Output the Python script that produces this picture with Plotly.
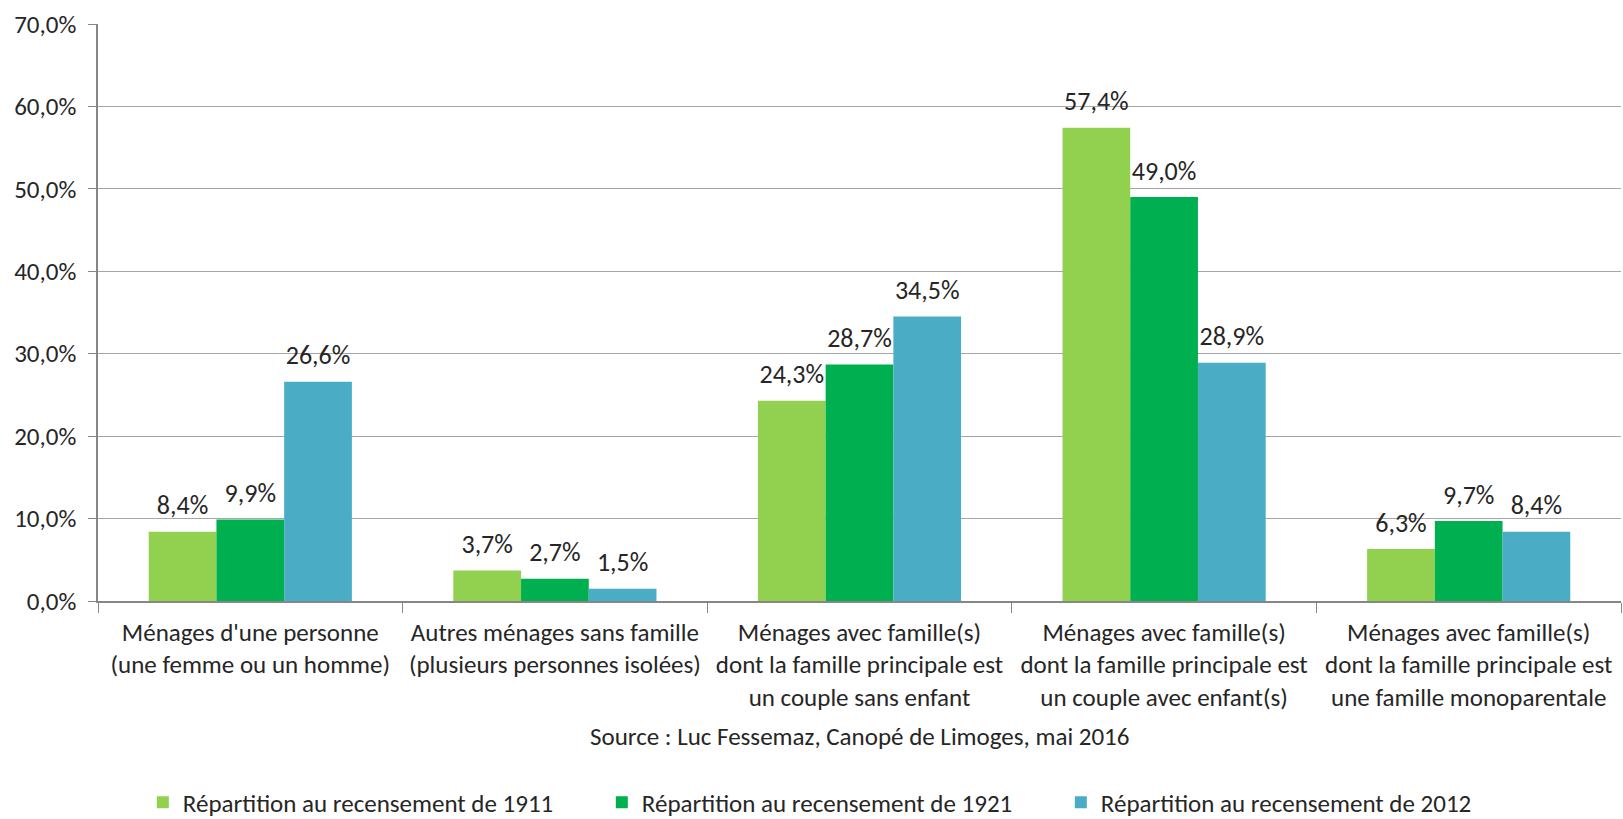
import plotly.graph_objects as go

categories = [
    "Ménages d'une personne<br>(une femme ou un homme)",
    "Autres ménages sans famille<br>(plusieurs personnes isolées)",
    "Ménages avec famille(s)<br>dont la famille principale est<br>un couple sans enfant",
    "Ménages avec famille(s)<br>dont la famille principale est<br>un couple avec enfant(s)",
    "Ménages avec famille(s)<br>dont la famille principale est<br>une famille monoparentale",
]
series_names = [
    "Répartition au recensement de 1911",
    "Répartition au recensement de 1921",
    "Répartition au recensement de 2012",
]
values_1911 = [8.4, 3.7, 24.3, 57.4, 6.3]
values_1921 = [9.9, 2.7, 28.7, 49.0, 9.7]
values_2012 = [26.6, 1.5, 34.5, 28.9, 8.4]
colors = ["#92D050", "#00B050", "#4BACC6"]
y_ticks = [0, 10, 20, 30, 40, 50, 60, 70]
source_text = "Source : Luc Fessemaz, Canopé de Limoges, mai 2016"

FONT = "Calibri, Carlito, Lato, sans-serif"
TXT = "#262626"
FS = 25

def fmt(v):
    return f"{v:.1f}".replace(".", ",") + "%"

fig = go.Figure()
all_vals = [values_1911, values_1921, values_2012]
for i, (name, vals, col) in enumerate(zip(series_names, all_vals, colors)):
    fig.add_trace(go.Bar(
        x=categories, y=vals, name=name, marker_color=col, marker_line_width=0,
        offsetgroup=str(i), hoverinfo="skip",
    ))
for i, vals in enumerate(all_vals):
    fig.add_trace(go.Scatter(
        x=categories, y=vals, mode="text+markers", showlegend=False,
        marker=dict(size=16, opacity=0), offsetgroup=str(i),
        text=[fmt(v) for v in vals], textposition="top center", cliponaxis=False,
        textfont=dict(family=FONT, size=26, color=TXT), hoverinfo="skip",
    ))

fig.update_layout(
    width=1623, height=819,
    margin=dict(l=98, r=2, t=24, b=218, autoexpand=False),
    paper_bgcolor="white", plot_bgcolor="white",
    barmode="group", bargap=0.333, bargroupgap=0,
    scattermode="group", scattergap=0.333,
    font=dict(family=FONT, size=FS, color=TXT),
    showlegend=True,
    legend=dict(orientation="h", xref="container", yref="container",
                x=0.088, xanchor="left", y=0.02, yanchor="middle",
                font=dict(family=FONT, size=FS, color=TXT),
                entrywidth=414, entrywidthmode="pixels",
                itemwidth=30, traceorder="normal"),
    xaxis=dict(showline=True, linecolor="#868686", linewidth=1.5,
               ticks="outside", tickson="boundaries", ticklen=10, tickcolor="#868686",
               ticklabelstandoff=8,
               tickfont=dict(family=FONT, size=FS, color=TXT)),
    yaxis=dict(range=[0, 70], tickvals=y_ticks,
               ticktext=[fmt(v) for v in y_ticks],
               showgrid=True, gridcolor="#A6A6A6", gridwidth=1,
               showline=True, linecolor="#868686", linewidth=1.5,
               ticks="outside", ticklen=8, tickcolor="#868686", zeroline=False,
               ticklabelstandoff=7,
               tickfont=dict(family=FONT, size=FS, color=TXT)),
    annotations=[dict(text=source_text, xref="paper", yref="paper", x=0.5, y=-0.234,
                      xanchor="center", yanchor="middle", showarrow=False,
                      font=dict(family=FONT, size=FS, color=TXT))],
)

fig.write_html("out.html", config={"displayModeBar": False},
               post_script="document.body.style.margin='0';document.body.style.overflow='hidden';")
